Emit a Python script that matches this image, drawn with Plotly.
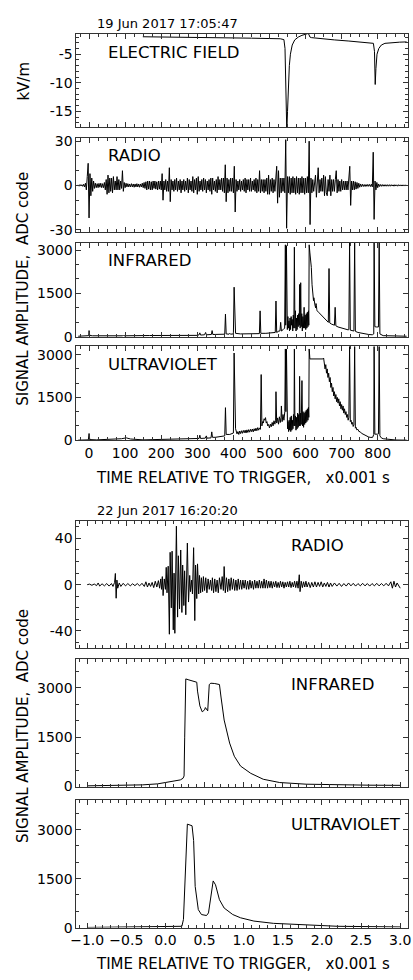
import plotly.graph_objects as go

W, H = 413, 980
FONT = "DejaVu Sans, sans-serif"

# ================= 19 Jun 2017 17:05:47 (time in units of 0.001 s) =================
# electric field, kV/m : (time, value)
EF = [(149, -1.95), (250, -2.0), (350, -2.1), (450, -2.2), (530, -2.3), (540, -2.45),
      (543, -4.0), (545, -9.0), (547, -15.0), (548, -18.5), (550, -15.0), (552, -10.5),
      (555, -7.0), (558, -5.0), (563, -3.4), (570, -2.5), (580, -2.0), (590, -1.7),
      (600, -1.5), (606, -1.4), (609, -1.5), (612, -2.0), (616, -2.1), (640, -2.3),
      (680, -2.5), (720, -2.7), (760, -2.9), (780, -3.0), (788, -3.1), (791, -4.5),
      (793, -10.3), (795, -7.5), (798, -5.0), (803, -4.0), (810, -3.4), (820, -3.1),
      (840, -2.95), (860, -2.9), (880, -2.85)]

# radio, ADC code, sampled every 2.5 units starting at -30 (rows of 50 units)
RADIO1_START, RADIO1_STEP = -30, 2.5
RADIO1_V = [
    0.4, -0.5, 0.6, -0.4, 0.5, -0.6, 0.8, -1, 1.5, -3, 6, 15, -22, 8, -7, 5, -4, 3, -2, 1.5,
    -1.5, 1.2, -1.5, 1.4, -1.2, 1.5, -1.5, 1.2, -1.5, 2, -3, 4, -6, 7, -5, 5, -4, 5, -5, 6,
    -3, 3, -3, 6, -3, 4, -3, 3, -2, 10, -4, 2, -1.5, 1.5, -1, 1.2, -1, 1, -1, 1.2,
    -1, 1, -1.2, 1, -1, 1.2, -1, 1, -1.2, 1, -1, 1.5, -1.5, 2, -2, 2.5, -3, 3, -2.5, 3,
    -3, 2.5, -3, 3, -2, 3, -2.5, 2.5, -3, 3, -2.5, 3, -3, 8, -10, 3, -3, 4, -4, 3,
    -4, 12, -11, 4, -3, 3, -4, 4, -3, 5, -4, 3, -3, 4, -5, 3, -3, 4, -4, 3,
    -3, 5, -5, 4, -3, 3, -4, 6, -5, 4, -3, 5, -6, 6, -4, 3, -3, 4, -4, 5,
    -3, 4, -5, 3, -3, 4, -4, 5, -6, 5, -3, 3, -4, 4, -5, 6, -3, 4, -3, 5,
    -4, 5, -5, 14, -11, 5, -5, 4, -4, 5, -4, 5, -5, 13, -18, 4, -4, 3, -3, 4,
    -4, 3, -3, 4, -4, 5, -5, 4, -3, 4, -4, 5, -4, 3, -3, 4, -4, 5, -5, 4,
    -4, 10, -5, 4, -4, 4, -5, 4, -4, 5, -6, 7, -6, 4, -4, 5, -5, 4, -4, 5,
    13, -12, 10, -8, 5, -5, 5, -4, 5, -5, 31, -29, 6, -5, 6, -6, 5, -5, 6, -5,
    5, -6, 6, -5, 5, -6, 5, -5, 6, -5, 5, -6, 5, -5, 6, -5, 30, -26.5, 5, -5,
    4, -4, 5, 7, -8, 4, 12, -5, 4, -4, 5, -4, 7, -7, 6, -5, -7, 4, -4, 7,
    -7, 4, -4, 4, -4, 4, 10, -5, 4, -4, 3, -4, 4, -3, 3, -3, 3, -3, 3, -3,
    3, 13, -13.5, 3, -3, 3, -3, 2.5, -2.5, 2, -2, 1.5, -1.2, 1, -0.8, 0.8, -0.7, 0.6, -0.7, 0.6,
    -0.6, 0.7, -0.6, 0.7, -0.7, 0.8, -1, 22.5, -23, 3, -3, 2, -1.5, 1, -0.7, 0.6, -0.6, 0.6, -0.5, 0.5,
    -0.5, 0.5, -0.5, 0.5, -0.5, 0.5, -0.5, 0.5, -0.4, 0.4, -0.5, 0.5, -0.4, 0.4, -0.5, 0.5, -0.4, 0.4, -0.4, 0.4,
    -0.4, 0.4, -0.4, 0.4, -0.3]

# infrared, ADC code : (time, value)
IR1 = [(-30, 20), (-5, 25), (-1, 40), (0, 215), (2, 45), (10, 35), (50, 30), (93, 35), (95, 60),
       (97, 35), (168, 45), (200, 40), (250, 40), (300, 50), (305, 70), (307, 136), (309, 60),
       (320, 70), (323, 150), (325, 70), (339, 80), (341, 215), (343, 80), (360, 80), (376, 90),
       (378, 784), (380, 100), (388, 90), (390, 120), (392, 90), (400, 100), (402, 1715),
       (404, 300), (406, 120), (420, 100), (440, 110), (460, 110), (472, 110), (474, 897),
       (476, 120), (490, 120), (500, 130), (510, 150), (516, 150), (518, 1237), (520, 150),
       (526, 200), (529, 200), (531, 500), (533, 200), (538, 250), (542, 300), (544, 3180),
       (545, 400), (547, 3150), (548, 600), (549.5, 250), (551, 700), (552.5, 300), (554, 550),
       (555.5, 200), (557, 650), (558.5, 250), (560, 700), (561.5, 400), (563, 600),
       (564.5, 200), (566, 750), (567.5, 300), (569, 3100), (570.5, 300), (572, 900),
       (573.5, 200), (575, 650), (576.5, 250), (578, 750), (579.5, 350), (581, 800),
       (582.5, 400), (583.5, 1810), (585, 300), (586.5, 1870), (588, 350), (589.5, 800),
       (591, 200), (592.5, 700), (594, 300), (596, 1020), (597.5, 300), (599, 750),
       (600.5, 250), (602, 800), (603.5, 300), (605, 850), (606.5, 350), (608, 900), (609, 400),
       (610, 3180), (612, 2900), (614, 2670), (616, 2400), (618, 1800), (620, 1400), (622, 1250),
       (623, 1350), (624, 1150), (626, 1100), (628, 1000), (629, 1150), (630, 1080), (631, 950),
       (632, 900), (636, 850), (640, 800), (644, 720), (648, 680), (652, 620), (656, 600),
       (660, 550), (663, 500), (665, 2360), (667, 480), (672, 440), (676, 420), (680, 400),
       (682, 1020), (684, 380), (690, 340), (700, 300), (710, 270), (718, 240), (720, 250),
       (722, 3300), (724, 230), (730, 210), (734, 200), (736, 3300), (738, 190), (745, 150),
       (755, 120), (765, 100), (775, 80), (785, 70), (789, 100), (790, 3300), (792, 350),
       (796, 340), (800, 330), (802, 340), (804, 3300), (806, 100), (815, 40), (830, 30),
       (850, 25), (880, 20)]

# ultraviolet, ADC code : (time, value)
UV1 = [(-30, 0), (-2, 10), (0, 233), (2, 20), (20, 10), (60, 20), (90, 50), (103, 80), (115, 40),
       (150, 10), (200, 20), (250, 30), (290, 40), (305, 60), (307, 174), (309, 60), (322, 70),
       (325, 150), (327, 70), (338, 80), (340, 290), (342, 100), (350, 100), (365, 120),
       (376, 150), (378, 1140), (380, 200), (390, 200), (400, 250), (402, 3058), (404, 800),
       (406, 400), (410, 220), (412.5, 300), (415, 200), (417.5, 320), (420, 230), (422.5, 330),
       (425, 240), (427.5, 340), (430, 260), (432.5, 350), (435, 250), (437.5, 360), (440, 270),
       (442.5, 370), (445, 280), (447.5, 380), (450, 300), (452.5, 390), (455, 290),
       (457.5, 400), (460, 320), (462.5, 420), (465, 330), (467.5, 440), (470, 350),
       (472.5, 430), (475, 380), (477, 2302), (479, 500), (481, 650), (483, 600), (485, 750),
       (487, 700), (489, 790), (491, 600), (493, 650), (495, 500), (497.5, 550), (500, 430),
       (502.5, 560), (505, 470), (507.5, 620), (510, 500), (512.5, 680), (515, 560), (517, 700),
       (518, 1700), (520, 600), (522.5, 780), (525, 560), (527.5, 820), (530, 620), (532, 800),
       (533, 1200), (535, 650), (537.5, 900), (540, 700), (542.5, 1000), (544, 3200),
       (545.5, 1000), (547, 3200), (548.5, 800), (550, 400), (551.5, 650), (553, 300),
       (554.5, 700), (556, 350), (557.5, 800), (559, 300), (560.5, 850), (562, 350), (563.5, 700),
       (565, 400), (566.5, 900), (568, 500), (569, 3200), (570.5, 500), (572, 850), (573.5, 350),
       (575, 800), (576.5, 400), (578, 950), (579.5, 450), (581, 900), (582.5, 500),
       (583.5, 2240), (585, 500), (586.5, 950), (588, 550), (590, 2090), (591.5, 500),
       (593, 1000), (594.5, 450), (596, 950), (597.5, 550), (599, 1000), (600.5, 600),
       (602, 1050), (603.5, 650), (605, 1100), (606.5, 700), (608, 1150), (609, 800),
       (610, 3200), (612, 2850), (648, 2850), (650, 2880), (652, 2700), (654, 2500), (656, 2650),
       (658, 2350), (660, 2500), (662, 2200), (664, 2350), (666, 2050), (668, 2200), (670, 1850),
       (672, 2000), (674, 1700), (676, 1850), (678, 1550), (680, 1700), (682, 1450), (684, 1600),
       (686, 1350), (688, 1500), (690, 1300), (692, 1450), (694, 1200), (696, 1350), (698, 1100),
       (700, 1250), (702, 1050), (704, 1200), (706, 950), (708, 1100), (710, 900), (712, 1000),
       (714, 800), (716, 900), (718, 700), (720, 800), (722, 3300), (724, 650), (726, 700),
       (728, 560), (730, 620), (732, 480), (734, 540), (736, 3300), (738, 420), (740, 450),
       (742, 360), (745, 380), (748, 300), (751, 300), (755, 240), (760, 200), (765, 160),
       (770, 130), (775, 110), (781, 95), (786, 100), (789, 200), (790, 3300), (792, 210),
       (796, 200), (800, 210), (802, 220), (804, 3300), (806, 150), (810, 80), (815, 50),
       (825, 30), (835, 15), (850, 5), (880, 0)]

# ================= 22 Jun 2017 16:20:20 (time in units of 0.001 s) =================
RADIO2 = [(-1.0, 0), (-0.97, 0.5), (-0.94, -0.5), (-0.91, 0.6), (-0.88, -0.8), (-0.86, 1.5),
          (-0.84, -1.2), (-0.81, 0.8), (-0.78, -1.0), (-0.75, 1.0), (-0.72, -1.2), (-0.69, 1.0),
          (-0.67, -1.5), (-0.65, 2), (-0.64, 9.7), (-0.63, -11.7), (-0.62, 4), (-0.61, -3),
          (-0.59, 1.5), (-0.57, -1.5), (-0.54, 1.2), (-0.51, -1), (-0.48, 1), (-0.45, -1),
          (-0.42, 0.8), (-0.39, -0.8), (-0.36, 1), (-0.33, -1), (-0.30, 1.2), (-0.27, -1.5),
          (-0.25, 2.5), (-0.23, -2), (-0.21, 1.5), (-0.19, -1.5), (-0.17, 2), (-0.15, -2.5),
          (-0.13, 3), (-0.11, -2), (-0.09, 3.5), (-0.075, -3), (-0.06, 5), (-0.05, -4),
          (-0.04, 7), (-0.03, -9.4), (-0.015, 5), (0.0, -4), (0.01, 15), (0.02, -7), (0.035, 16),
          (0.05, -42.8), (0.06, 28), (0.075, -20), (0.085, 29), (0.1, -39), (0.11, 10),
          (0.12, -42), (0.14, 50.6), (0.155, -28), (0.165, 25), (0.18, -21), (0.195, 30),
          (0.21, -24), (0.22, 17), (0.235, -18), (0.245, 12), (0.26, -26), (0.28, 36),
          (0.295, -15), (0.31, 8), (0.32, -6), (0.335, 4), (0.345, -8), (0.36, 32), (0.375, -31),
          (0.385, 17), (0.4, -12), (0.41, 18), (0.425, -8), (0.435, 8), (0.45, -7), (0.46, 6),
          (0.475, -6), (0.485, 7), (0.5, -5), (0.515, 6), (0.53, -7), (0.545, 5), (0.56, -4),
          (0.575, 4), (0.59, -5), (0.6, 6), (0.615, -7), (0.63, 5), (0.645, -6), (0.66, 4),
          (0.675, -7), (0.69, 6), (0.71, -4), (0.725, 7), (0.74, -5), (0.75, 15.7), (0.765, -7),
          (0.78, 6), (0.795, -6), (0.81, 5), (0.825, -5), (0.84, 6), (0.855, -4), (0.87, 5),
          (0.885, -5), (0.9, 4), (0.915, -5), (0.93, 5), (0.945, -4), (0.96, 4), (0.975, -4),
          (0.99, 4), (1.005, -3), (1.02, 4), (1.035, -4), (1.05, 3), (1.065, -4), (1.08, 4),
          (1.095, -3), (1.11, 3), (1.125, -4), (1.14, 4), (1.155, -3), (1.17, 3), (1.185, -3),
          (1.2, 4), (1.215, -3), (1.23, 3), (1.245, -3), (1.26, 5), (1.275, -3), (1.29, 4),
          (1.305, -3), (1.32, 3), (1.335, -2.5), (1.35, 3), (1.365, -3), (1.38, 2.5), (1.395, -2),
          (1.41, 3), (1.425, -2.5), (1.44, 2), (1.455, -2.5), (1.47, 3), (1.485, -2), (1.5, 2.5),
          (1.515, -3), (1.53, 2), (1.545, -2), (1.56, 2.5), (1.575, -2), (1.59, 3), (1.605, -2.5),
          (1.62, 2), (1.635, -2), (1.65, 3), (1.665, -2.5), (1.68, 3), (1.695, -3), (1.71, 8.6),
          (1.72, -6), (1.735, 3), (1.75, -2.5), (1.765, 2.5), (1.78, -2), (1.795, 3), (1.81, -2),
          (1.83, 2), (1.85, -2.5), (1.87, 2), (1.89, -2), (1.91, 2.5), (1.93, -2), (1.95, 2),
          (1.97, -1.5), (1.99, 2.5), (2.01, -2), (2.03, 1.5), (2.05, -1.5), (2.07, 2), (2.09, -2),
          (2.11, 1.5), (2.13, -1.5), (2.16, 1.5), (2.19, -1.2), (2.22, 1.2), (2.25, -1.5),
          (2.28, 1), (2.31, -1.2), (2.34, 1.5), (2.37, -1), (2.4, 1.2), (2.43, -1.2), (2.46, 1),
          (2.49, -1), (2.52, 1.2), (2.55, -1), (2.58, 1), (2.61, -1.2), (2.64, 1), (2.67, -1),
          (2.7, 1.2), (2.73, -1), (2.76, 1), (2.79, -1), (2.82, 1.2), (2.85, -1), (2.88, 2.5),
          (2.9, -3), (2.92, 3), (2.94, -2), (2.96, 1.5), (2.98, -1), (3.0, -3)]

IR2 = [(-1.0, 20), (-0.6, 30), (-0.29, 50), (-0.1, 80), (0.0, 120), (0.09, 170), (0.19, 200),
       (0.225, 250), (0.238, 320), (0.246, 1500), (0.254, 3000), (0.26, 3270), (0.3, 3240),
       (0.35, 3210), (0.4, 3170), (0.41, 2900), (0.44, 2450), (0.47, 2270), (0.5, 2330),
       (0.51, 2400), (0.53, 2330), (0.54, 2300), (0.56, 3100), (0.58, 3140), (0.63, 3130),
       (0.69, 3100), (0.71, 2720), (0.75, 2020), (0.82, 1320), (0.88, 920), (0.96, 620),
       (1.09, 400), (1.25, 220), (1.46, 120), (1.8, 70), (2.2, 50), (2.6, 40), (3.0, 35)]

UV2 = [(-1.0, 5), (-0.5, 10), (0.0, 20), (0.15, 30), (0.21, 40), (0.23, 250), (0.26, 2260),
       (0.28, 3170), (0.34, 3120), (0.36, 2670), (0.38, 1260), (0.42, 550), (0.46, 400),
       (0.525, 370), (0.55, 450), (0.58, 960), (0.61, 1430), (0.64, 1310), (0.69, 855),
       (0.75, 600), (0.86, 400), (0.96, 300), (1.13, 200), (1.38, 130), (1.71, 90), (2.2, 40),
       (3.0, 20)]

# ================= axes / labels =================
TOP_XTICKS = [0, 100, 200, 300, 400, 500, 600, 700, 800]
BOT_XTICKS = [-1.0, -0.5, 0.0, 0.5, 1.0, 1.5, 2.0, 2.5, 3.0]
BOT_XTEXT = ["\u22121.0", "\u22120.5", "0.0", "0.5", "1.0", "1.5", "2.0", "2.5", "3.0"]


def split(pairs):
    return [p[0] for p in pairs], [p[1] for p in pairs]


RADIO1_T = [RADIO1_START + RADIO1_STEP * i for i in range(len(RADIO1_V))]
EF_T, EF_V = split(EF)
IR1_T, IR1_V = split(IR1)
UV1_T, UV1_V = split(UV1)
RADIO2_T, RADIO2_V = split(RADIO2)
IR2_T, IR2_V = split(IR2)
UV2_T, UV2_V = split(UV2)

# panel: (xs, ys, top_px, bottom_px, yrange, yticks, yticktext, yminor, group)
panels = [
    (EF_T, EF_V, 29, 124, [-17.8, -1.4], [-5, -10, -15], ["-5", "-10", "-15"], 1, "top"),
    (RADIO1_T, RADIO1_V, 135, 230, [-31.5, 32], [30, 0, -30], ["30", "0", "-30"], 10, "top"),
    (IR1_T, IR1_V, 241, 336.5, [-8, 3250], [0, 1500, 3000], ["0", "1500", "3000"], 500, "top"),
    (UV1_T, UV1_V, 346, 441, [0, 3290], [0, 1500, 3000], ["0", "1500", "3000"], 500, "top"),
    (RADIO2_T, RADIO2_V, 523, 652, [-55, 55], [40, 0, -40], ["40", "0", "-40"], 10, "bot"),
    (IR2_T, IR2_V, 663, 793, [-30, 3870], [0, 1500, 3000], ["0", "1500", "3000"], 500, "bot"),
    (UV2_T, UV2_V, 806, 935, [0, 3900], [0, 1500, 3000], ["0", "1500", "3000"], 500, "bot"),
]

AX = "#333333"
fig = go.Figure()
layout = {}
XDOM = [72 / W, 411 / W]
for i, (xs, ys, top, bot, yr, yt, ytt, ymin, grp) in enumerate(panels, start=1):
    sfx = "" if i == 1 else str(i)
    fig.add_trace(go.Scatter(x=xs, y=ys, mode="lines",
                             line=dict(color="black", width=1),
                             xaxis="x" + sfx, yaxis="y" + sfx,
                             showlegend=False, hoverinfo="skip"))
    last = (i == 4) or (i == 7)
    if grp == "top":
        xr, xt, xtt, xminor = [-35, 884], TOP_XTICKS, [str(v) for v in TOP_XTICKS], 25
    else:
        xr, xt, xtt, xminor = [-1.1375, 3.1], BOT_XTICKS, BOT_XTEXT, 0.1
    common = dict(showline=True, linecolor=AX, linewidth=1, mirror="allticks",
                  ticks="inside", ticklen=5, tickwidth=1, tickcolor=AX,
                  showgrid=False, zeroline=False,
                  tickfont=dict(family=FONT, size=14, color="black"))
    layout["xaxis" + sfx] = dict(common, domain=XDOM, anchor="y" + sfx, range=xr,
                                 tickmode="array", tickvals=xt, ticktext=xtt,
                                 showticklabels=last, ticklabeloverflow="allow",
                                 minor=dict(ticks="inside", ticklen=3, dtick=xminor,
                                            tick0=0, tickcolor=AX, showgrid=False))
    layout["yaxis" + sfx] = dict(common, domain=[1 - bot / H, 1 - top / H],
                                 anchor="x" + sfx, range=yr,
                                 tickmode="array", tickvals=yt, ticktext=ytt,
                                 minor=dict(ticks="inside", ticklen=3, dtick=ymin,
                                            tick0=0, tickcolor=AX, showgrid=False))


def ann(text, xpx, ypx, size, xanchor="left", angle=0):
    return dict(text=text, x=xpx / W, y=1 - ypx / H, xref="paper", yref="paper",
                xanchor=xanchor, yanchor="middle", showarrow=False, textangle=angle,
                font=dict(family=FONT, size=size, color="black"))


NB = "\u00a0"
annotations = [
    ann("19 Jun 2017 17:05:47", 91, 19, 13),
    ann("22 Jun 2017 16:20:20", 91, 512, 13),
    ann("ELECTRIC FIELD", 102, 48, 16.5),
    ann("RADIO", 102, 153, 16.5),
    ann("INFRARED", 102, 259, 16.5),
    ann("ULTRAVIOLET", 102, 364, 16.5),
    ann("RADIO", 289, 548, 16.5),
    ann("INFRARED", 289, 689, 16.5),
    ann("ULTRAVIOLET", 289, 831, 16.5),
    ann("TIME RELATIVE TO TRIGGER," + NB * 3 + "x0.001 s", 242.5, 479, 15, "center"),
    ann("TIME RELATIVE TO TRIGGER," + NB * 3 + "x0.001 s", 242.5, 972, 15, "center"),
    ann("kV/m", 18, 77, 15, "center", -90),
    ann("SIGNAL AMPLITUDE," + NB * 2 + "ADC code", 18, 288, 15, "center", -90),
    ann("SIGNAL AMPLITUDE," + NB * 2 + "ADC code", 18, 731, 15, "center", -90),
]

fig.update_layout(width=W, height=H, margin=dict(l=0, r=0, t=0, b=0),
                  paper_bgcolor="white", plot_bgcolor="white",
                  font=dict(family=FONT, color="black"),
                  annotations=annotations, **layout)
fig.write_html("out.html", config={"displayModeBar": False})
